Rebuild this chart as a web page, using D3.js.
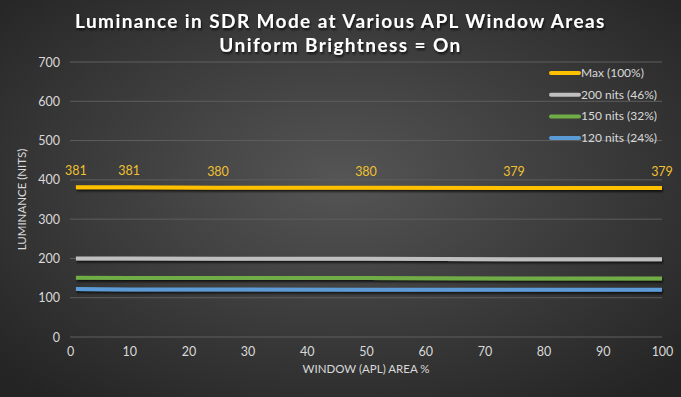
<!DOCTYPE html>
<meta charset="utf-8">
<head>
    <title>Luminance in SDR Mode</title>
    <script src="https://cdn.jsdelivr.net/npm/d3@7"></script>
    <style>
        body { margin: 0; padding: 0; background: #2b2b2b; }
        text { font-family: Lato, "Liberation Sans", sans-serif; }
    </style>
</head>
<body>
<script>
    // data
    const windowSizes = [1, 10, 25, 50, 75, 100];
    const seriesNames = ["Max (100%)", "200 nits (46%)", "150 nits (32%)", "120 nits (24%)"];
    const maxValues = [381, 381, 380, 380, 379, 379];
    const nits200Values = [200, 200, 199, 199, 198, 198];
    const nits150Values = [151, 150, 150, 150, 149, 149];
    const nits120Values = [122, 121, 121, 120, 120, 120];
    const yTicks = [0, 100, 200, 300, 400, 500, 600, 700];
    const xTicks = [0, 10, 20, 30, 40, 50, 60, 70, 80, 90, 100];
    const seriesColors = ["#ffc000", "#bfbfbf", "#70ad47", "#5b9bd5"];

    const width = 681, height = 397;
    const margin = {top: 62, right: 19, bottom: 60, left: 70};

    const svg = d3.select("body").append("svg")
        .attr("width", width)
        .attr("height", height);

    const defs = svg.append("defs");
    const grad = defs.append("radialGradient")
        .attr("id", "bg")
        .attr("cx", "50%").attr("cy", "45%").attr("r", "70%");
    grad.append("stop").attr("offset", "0%").attr("stop-color", "#555555");
    grad.append("stop").attr("offset", "100%").attr("stop-color", "#242424");

    // shadow in user space so thin horizontal paths are not clipped
    const shadow = defs.append("filter").attr("id", "shadow")
        .attr("filterUnits", "userSpaceOnUse")
        .attr("x", 0).attr("y", 0).attr("width", width).attr("height", height);
    shadow.append("feDropShadow")
        .attr("dx", 1).attr("dy", 2).attr("stdDeviation", 1.2)
        .attr("flood-color", "#000").attr("flood-opacity", 0.7);

    svg.append("rect")
        .attr("width", width).attr("height", height)
        .attr("fill", "url(#bg)");

    const x = d3.scaleLinear().domain([0, 100]).range([margin.left, width - margin.right]);
    const y = d3.scaleLinear().domain([0, 700]).range([height - margin.bottom, margin.top]);

    // title
    const title = svg.append("text")
        .attr("x", width / 2)
        .attr("text-anchor", "middle")
        .attr("fill", "#ffffff")
        .attr("font-size", 19)
        .attr("font-weight", "bold")
        .attr("filter", "url(#shadow)")
        .style("letter-spacing", "1.4px");
    title.append("tspan").attr("x", width / 2).attr("y", 28)
        .text("Luminance in SDR Mode at Various APL Window Areas");
    title.append("tspan").attr("x", width / 2).attr("y", 52)
        .text("Uniform Brightness = On");

    // grid lines
    svg.append("g")
        .selectAll("line")
        .data(yTicks)
        .join("line")
        .attr("x1", x(0)).attr("x2", x(100))
        .attr("y1", d => y(d)).attr("y2", d => y(d))
        .attr("stroke", "#5e5e5e")
        .attr("stroke-width", 1);

    // axes
    const yAxis = svg.append("g")
        .attr("transform", `translate(${margin.left},0)`)
        .call(d3.axisLeft(y).tickValues(yTicks).tickSize(0).tickPadding(10));
    yAxis.select(".domain").remove();
    yAxis.selectAll("text").attr("fill", "#d9d9d9").attr("font-size", 12.5);

    const xAxis = svg.append("g")
        .attr("transform", `translate(0,${y(0)})`)
        .call(d3.axisBottom(x).tickValues(xTicks).tickSize(0).tickPadding(10));
    xAxis.select(".domain").remove();
    xAxis.selectAll("text").attr("fill", "#d9d9d9").attr("font-size", 12.5);

    svg.append("text")
        .attr("x", (x(0) + x(100)) / 2)
        .attr("y", 373)
        .attr("text-anchor", "middle")
        .attr("fill", "#d9d9d9")
        .attr("font-size", 11.5)
        .text("WINDOW (APL) AREA %");

    svg.append("text")
        .attr("transform", `translate(26,${y(350)}) rotate(-90)`)
        .attr("text-anchor", "middle")
        .attr("fill", "#d9d9d9")
        .attr("font-size", 11.5)
        .text("LUMINANCE (NITS)");

    // lines
    const allSeries = [maxValues, nits200Values, nits150Values, nits120Values];
    const line = d3.line()
        .x((d, i) => x(windowSizes[i]))
        .y(d => y(d));

    svg.append("g")
        .selectAll("path")
        .data(allSeries.slice().reverse())
        .join("path")
        .attr("d", line)
        .attr("fill", "none")
        .attr("stroke", (d, i) => seriesColors[allSeries.length - 1 - i])
        .attr("stroke-width", 4)
        .attr("filter", "url(#shadow)");

    // data labels for max
    svg.append("g")
        .selectAll("text")
        .data(maxValues)
        .join("text")
        .attr("x", (d, i) => x(windowSizes[i]))
        .attr("y", d => y(d) - 12)
        .attr("text-anchor", "middle")
        .attr("fill", "#f0c030")
        .attr("font-size", 12.5)
        .text(d => d);

    // legend
    const legend = svg.append("g")
        .attr("transform", "translate(551,73)");
    const items = legend.selectAll("g")
        .data(seriesNames)
        .join("g")
        .attr("transform", (d, i) => `translate(0,${i * 21.7})`);
    items.append("line")
        .attr("x1", 0).attr("x2", 28)
        .attr("stroke", (d, i) => seriesColors[i])
        .attr("stroke-width", 4)
        .attr("stroke-linecap", "round");
    items.append("text")
        .attr("x", 30)
        .attr("y", 4)
        .attr("fill", "#d9d9d9")
        .attr("font-size", 12)
        .text(d => d);
</script>
</body>
</html>
